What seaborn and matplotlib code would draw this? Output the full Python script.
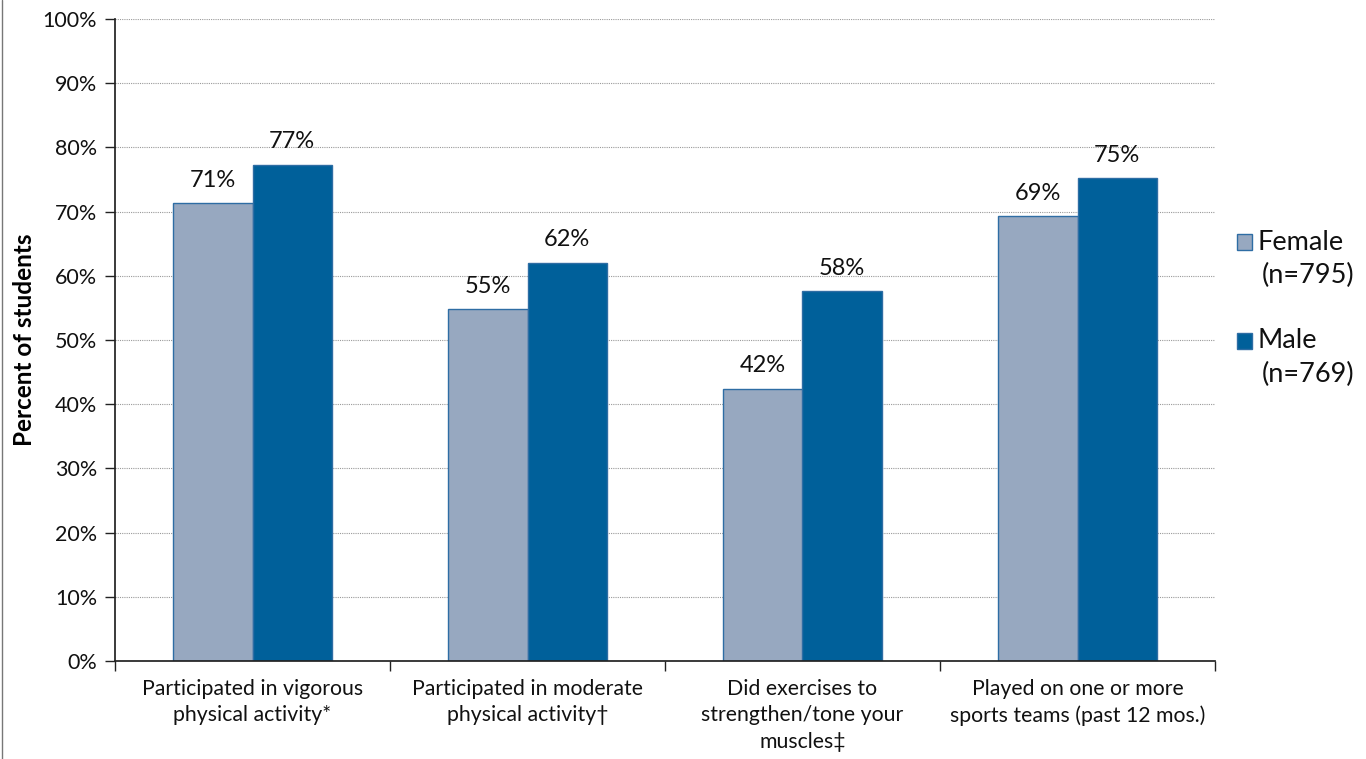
import matplotlib
matplotlib.use("Agg")
import matplotlib.pyplot as plt
import seaborn as sns
import pandas as pd
from matplotlib.patches import Rectangle

categories = [
    "Participated in vigorous\nphysical activity*",
    "Participated in moderate\nphysical activity\u2020",
    "Did exercises to\nstrengthen/tone your\nmuscles\u2021",
    "Played on one or more\nsports teams (past 12 mos.)",
]
groups = ["Female", "Male"]
group_n = ["(n=795)", "(n=769)"]
female = [71.3, 54.8, 42.4, 69.3]
male = [77.3, 62.0, 57.6, 75.2]
yticks = [0, 10, 20, 30, 40, 50, 60, 70, 80, 90, 100]

sns.set_theme(style="white")
plt.rcParams['font.family'] = ['Lato', 'DejaVu Sans']

df = pd.DataFrame({
    "category": categories * 2,
    "group": [groups[0]] * 4 + [groups[1]] * 4,
    "value": female + male,
})

colors = ["#97A8C0", "#00609A"]
W, H = 1366, 759
fig = plt.figure(figsize=(W / 100, H / 100), dpi=100)
ax = fig.add_axes([115/W, 1 - 661/H, 1100/W, 642/H])

sns.barplot(data=df, x="category", y="value", hue="group", palette=colors,
            width=0.575, ax=ax, legend=False, saturation=1)
for p in ax.patches:
    p.set_edgecolor("#2E6DA4")
    p.set_linewidth(1.0)

for c in ax.containers:
    ax.bar_label(c, labels=[f"{v:.0f}%" for v in c.datavalues], padding=9, fontsize=17, color="#111111")

ax.set_ylim(0, 100)
ax.set_xlim(-0.5, 3.5)
ax.set_yticks(yticks)
ax.set_yticklabels([f"{t}%" for t in yticks], fontsize=15.5, color="#111111")
ax.yaxis.grid(True, linestyle=(0, (1, 1)), color="#9a9a9a", linewidth=0.8)
ax.set_axisbelow(True)
for s in ["top", "right"]:
    ax.spines[s].set_visible(False)
ax.spines["left"].set_color("#222222")
ax.spines["bottom"].set_color("#222222")
ax.tick_params(axis="y", which="major", direction="out", length=7, width=1, color="#222222", left=True, pad=6)
ax.set_xticks([-0.5, 0.5, 1.5, 2.5, 3.5])
ax.set_xticklabels([])
ax.tick_params(axis="x", which="major", direction="out", length=7, width=1, color="#222222", bottom=True)
ax.set_xticks([0, 1, 2, 3], minor=True)
ax.set_xticklabels(categories, minor=True, fontsize=15.3, color="#111111", linespacing=1.4)
ax.tick_params(axis="x", which="minor", length=0, pad=13)
ax.set_xlabel("")
ax.set_ylabel("Percent of students", fontsize=17.5, fontweight="bold", color="#000000")
ax.yaxis.set_label_coords((36 - 115) / 1100, 0.5)

# legend (handle aligned with first line of each label, as in the reference)
for i, (g, n) in enumerate(zip(groups, group_n)):
    ytop = 234 + i * 99
    fig.add_artist(Rectangle((1237 / W, 1 - (ytop + 16) / H), 15 / W, 16 / H,
                             facecolor=colors[i], edgecolor="#2E6DA4", linewidth=1,
                             transform=fig.transFigure))
    fig.text(1257 / W, 1 - (ytop + 8) / H, g, fontsize=19.5, va="center", ha="left", color="#111111")
    fig.text(1262 / W, 1 - (ytop + 41) / H, n, fontsize=19.5, va="center", ha="left", color="#111111")

fig.add_artist(plt.Line2D([2/W, 2/W], [0, 1], color="#777777", linewidth=1))
fig.savefig("out.png", dpi=100)
